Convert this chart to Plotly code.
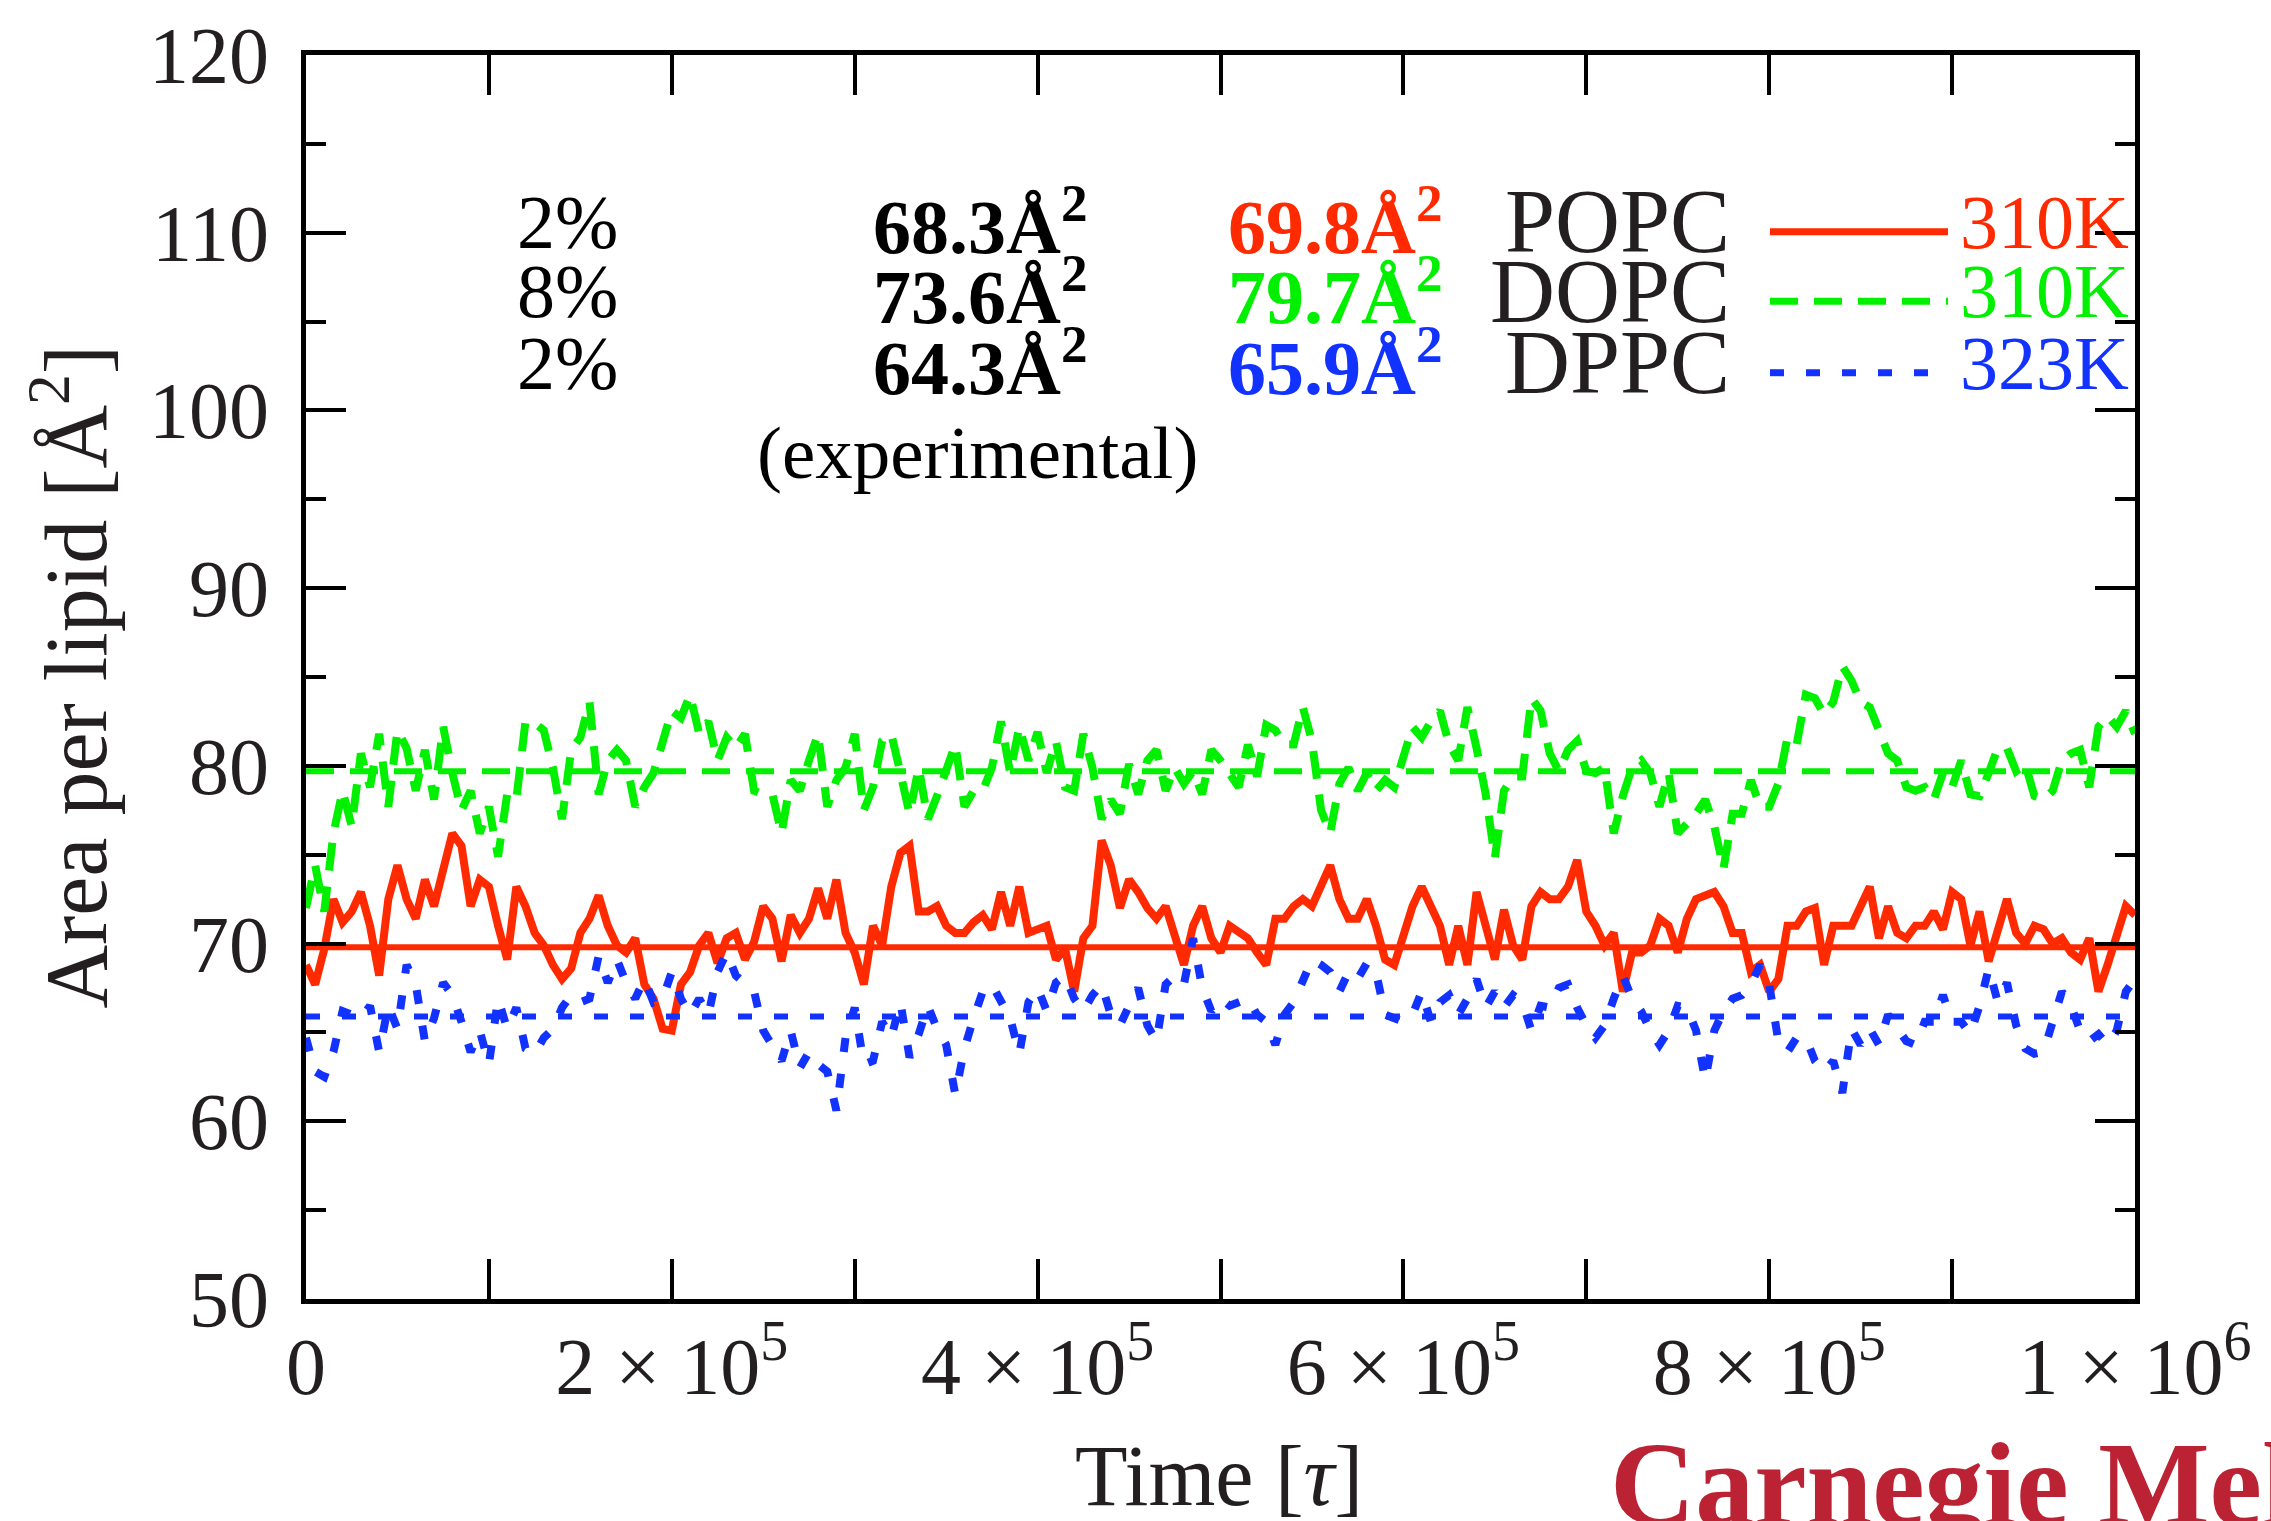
import plotly.graph_objects as go

# Area per lipid [Å^2] sampled every 5000 tau, 0 .. 1e6
sample_step = 5000

popc = [
    68.8, 67.7, 69.7, 72.5, 71.2, 71.8, 72.9, 71.0, 68.2, 72.5, 74.4,
    72.5, 71.4, 73.6, 72.1, 74.0, 76.2, 75.5, 72.1, 73.6, 73.2,
    71.0, 69.1, 73.2, 72.1, 70.6, 69.9, 68.8, 68.0, 68.6, 70.6,
    71.4, 72.7, 71.0, 69.9, 69.5, 70.3, 67.7, 66.9, 65.2, 65.1,
    67.7, 68.4, 69.9, 70.6, 68.9, 70.3, 70.6, 69.1, 70.1, 72.1,
    71.4, 69.0, 71.6, 70.6, 71.4, 73.1, 71.4, 73.6, 70.6, 69.5,
    67.7, 71.0, 69.9, 73.2, 75.1, 75.5, 71.8, 71.8, 72.1, 71.0,
    70.6, 70.6, 71.2, 71.6, 70.8, 72.9, 71.0, 73.2, 70.6, 70.8,
    71.0, 69.1, 69.7, 67.3, 70.3, 71.0, 75.8, 74.4, 72.0, 73.6,
    72.9, 72.0, 71.4, 72.1, 70.3, 68.8, 71.0, 72.1, 70.3, 69.5,
    71.0, 70.6, 70.3, 69.5, 68.8, 71.4, 71.4, 72.1, 72.5, 72.1,
    73.2, 74.4, 72.5, 71.4, 71.4, 72.5, 71.0, 69.1, 68.8, 70.4,
    72.1, 73.2, 72.1, 71.0, 68.8, 71.0, 68.8, 72.9, 71.0, 69.1,
    71.9, 69.9, 69.1, 72.1, 72.9, 72.5, 72.5, 73.2, 74.7, 71.8,
    71.0, 69.9, 70.6, 67.3, 69.5, 69.5, 69.9, 71.4, 71.0, 69.5,
    71.4, 72.5, 72.7, 72.9, 72.1, 70.6, 70.6, 68.4, 68.8, 67.3,
    68.0, 71.0, 71.0, 71.8, 72.0, 68.8, 71.0, 71.0, 71.0, 72.1,
    73.2, 70.3, 72.1, 70.6, 70.3, 71.0, 71.0, 71.8, 70.8, 72.9,
    72.5, 69.9, 71.8, 69.0, 70.6, 72.5, 70.6, 70.0, 71.0, 70.8,
    70.0, 70.3, 69.5, 69.1, 70.3, 67.3, 68.8, 70.6, 72.1, 71.6,
]

dopc = [
    72.0, 74.4, 71.8, 76.2, 78.6, 76.6, 80.7, 78.8, 81.8, 77.7, 82.0,
    81.0, 78.6, 80.9, 78.1, 82.2, 79.6, 77.5, 78.6, 76.2, 77.7,
    74.9, 78.4, 78.1, 82.5, 82.4, 82.0, 79.9, 77.0, 80.9, 81.6,
    83.6, 78.4, 80.3, 80.9, 80.3, 77.7, 78.8, 79.6, 81.4, 83.1,
    82.7, 84.0, 81.8, 82.5, 80.3, 81.6, 81.0, 81.8, 78.6, 78.4,
    78.4, 76.2, 79.2, 78.6, 80.3, 81.8, 77.7, 79.2, 79.9, 81.8,
    77.5, 78.8, 81.4, 81.8, 79.6, 77.3, 79.9, 77.0, 78.3, 79.6,
    81.2, 77.7, 78.6, 78.6, 79.9, 82.5, 79.6, 82.2, 80.3, 81.9,
    79.6, 81.4, 78.8, 78.6, 81.8, 79.9, 77.0, 78.1, 77.3, 80.1,
    78.4, 80.3, 80.9, 78.6, 79.9, 79.0, 79.7, 78.4, 80.9, 80.3,
    79.6, 78.8, 81.2, 79.4, 82.3, 82.0, 81.2, 81.2, 83.3, 81.4,
    77.5, 76.2, 79.0, 79.9, 78.6, 79.6, 78.6, 79.2, 78.8, 80.7,
    82.2, 81.6, 82.5, 83.1, 81.2, 80.3, 83.3, 81.0, 78.4, 74.8,
    78.6, 79.4, 79.4, 83.8, 83.1, 80.7, 79.7, 80.9, 81.4, 79.7,
    79.6, 79.9, 76.2, 78.3, 79.9, 80.3, 79.6, 77.7, 79.6, 76.2,
    76.8, 77.3, 78.1, 76.6, 74.2, 77.3, 77.3, 79.2, 77.7, 77.7,
    79.0, 81.6, 81.2, 84.0, 83.8, 82.9, 83.6, 85.6, 84.8, 83.6,
    83.3, 82.0, 80.7, 80.3, 78.8, 78.6, 78.8, 78.1, 79.6, 78.8,
    80.3, 78.4, 78.3, 79.6, 81.0, 81.0, 79.7, 80.1, 78.3, 78.1,
    78.6, 80.3, 80.7, 80.9, 78.8, 82.2, 82.8, 82.2, 83.1, 81.8,
]

dppc = [
    64.7, 62.8, 62.5, 63.9, 66.2, 66.0, 65.8, 66.5, 63.9, 66.5, 65.2,
    68.8, 67.7, 64.5, 65.8, 67.8, 67.1, 65.6, 63.9, 65.1, 63.2,
    66.9, 65.2, 66.4, 64.1, 63.8, 64.7, 65.2, 66.4, 67.1, 66.7,
    66.9, 69.3, 67.8, 69.1, 67.8, 66.9, 68.0, 66.7, 66.9, 68.4,
    66.9, 66.0, 66.9, 66.0, 68.4, 69.5, 68.2, 67.8, 67.3, 65.1,
    64.3, 63.4, 65.1, 63.0, 63.9, 63.2, 62.8, 60.6, 64.7, 66.4,
    63.2, 63.4, 65.6, 64.7, 66.7, 63.6, 64.9, 66.5, 65.2, 64.3,
    61.5, 64.1, 65.8, 67.3, 67.7, 66.7, 65.8, 63.8, 66.7, 67.5,
    66.2, 67.8, 68.2, 66.9, 66.2, 67.1, 67.7, 66.0, 65.4, 66.5,
    67.5, 65.4, 64.5, 67.7, 68.2, 67.7, 70.3, 67.5, 66.2, 66.9,
    66.5, 66.7, 66.9, 66.0, 65.6, 64.3, 66.0, 66.7, 68.0, 69.1,
    68.8, 68.4, 67.3, 68.4, 68.0, 68.9, 68.4, 66.0, 65.8, 65.6,
    66.0, 67.3, 65.6, 66.7, 67.1, 66.0, 66.9, 68.0, 66.4, 67.3,
    66.4, 67.1, 66.7, 65.1, 66.5, 66.4, 67.5, 67.7, 66.4, 65.4,
    64.7, 65.4, 66.9, 68.2, 66.9, 66.2, 65.1, 64.3, 65.1, 66.5,
    66.4, 65.1, 62.3, 65.1, 66.2, 66.9, 67.1, 67.7, 68.8, 67.7,
    64.5, 63.9, 64.7, 64.7, 63.4, 62.8, 63.4, 61.6, 65.2, 64.3,
    65.2, 64.3, 66.0, 65.2, 64.5, 64.3, 65.6, 65.6, 67.1, 65.6,
    65.6, 64.9, 66.5, 68.6, 66.7, 67.8, 65.4, 64.1, 63.8, 63.9,
    65.6, 67.3, 66.5, 65.1, 64.5, 64.9, 64.3, 65.1, 67.3, 68.0,
]

time = [i * sample_step for i in range(len(popc))]

lipids = ["POPC", "DOPC", "DPPC"]
temperatures = ["310K", "310K", "323K"]
fractions = ["2%", "8%", "2%"]
experimental_area = [68.3, 73.6, 64.3]
simulated_area = [69.8, 79.7, 65.9]
series = [popc, dopc, dppc]

colors = ["#ff2a00", "#00f000", "#1232ff"]
dashes = ["solid", "28px,16px", "14px,22px"]

x_tick_vals = [0, 200000, 400000, 600000, 800000, 1000000]
x_tick_text = ["0", "2 × 10<sup>5</sup>", "4 × 10<sup>5</sup>",
               "6 × 10<sup>5</sup>", "8 × 10<sup>5</sup>", "1 × 10<sup>6</sup>"]

FONT = "Liberation Serif"
INK = "#231f20"

fig = go.Figure()
for name, vals, mean, col, dash in zip(lipids, series, simulated_area, colors, dashes):
    fig.add_trace(go.Scatter(x=time, y=vals, mode="lines", name=name,
                             line=dict(color=col, width=8, dash=dash)))
    fig.add_trace(go.Scatter(x=[time[0], time[-1]], y=[mean, mean], mode="lines",
                             showlegend=False,
                             line=dict(color=col, width=6, dash=dash)))

axis_common = dict(showline=True, linewidth=5, linecolor="black", mirror="allticks",
                   ticks="inside", tickcolor="black", showgrid=False, zeroline=False,
                   tickfont=dict(family=FONT, size=80, color=INK))

fig.update_xaxes(range=[0, 1000000], tickvals=x_tick_vals, ticktext=x_tick_text,
                 ticklen=40, tickwidth=4, ticklabelstandoff=-6,
                 minor=dict(dtick=100000, ticklen=40, tickwidth=4, ticks="inside",
                            tickcolor="black"),
                 **axis_common)
fig.update_yaxes(range=[50, 120], dtick=10, ticklen=40, tickwidth=4,
                 ticklabelstandoff=16,
                 minor=dict(dtick=5, ticklen=20, tickwidth=4, ticks="inside",
                            tickcolor="black"),
                 **axis_common)

W, H = 2271, 1521
L, R, T, B = 306, 136, 46, 222


def px(xp):
    return (xp - L) / (W - L - R)


def py(yp):
    return (H - B - yp) / (H - T - B)


row_y = [224, 294, 366]
ann = []
shapes = []
for i in range(3):
    yy = py(row_y[i] - 10)
    ann.append(dict(x=px(620), y=yy, text=fractions[i], xanchor="right",
                    font=dict(size=76, color="black")))
    ann.append(dict(x=px(1089), y=yy, text=f"<b>{experimental_area[i]:.1f}Å<sup>2</sup></b>",
                    xanchor="right", font=dict(size=76, color="black")))
    ann.append(dict(x=px(1444), y=yy, text=f"<b>{simulated_area[i]:.1f}Å<sup>2</sup></b>",
                    xanchor="right", font=dict(size=76, color=colors[i])))
    ann.append(dict(x=px(1732), y=yy, text=lipids[i], xanchor="right",
                    font=dict(size=90, color=INK)))
    ann.append(dict(x=px(1958), y=yy, text=temperatures[i], xanchor="left",
                    font=dict(size=76, color=colors[i])))
    shapes.append(dict(type="line", xref="paper", yref="paper",
                       x0=px(1770), x1=px(1948), y0=py(row_y[i]), y1=py(row_y[i]),
                       line=dict(color=colors[i], width=7, dash=dashes[i])))

ann.append(dict(x=px(977), y=py(446), text="(experimental)", xanchor="center",
                font=dict(size=75, color="black")))
ann.append(dict(x=px(70), y=py(672), text="Area per lipid [Å<sup>2</sup>]", textangle=-90,
                xanchor="center", font=dict(size=88, color=INK)))
ann.append(dict(x=px(1219), y=py(1477), text="Time [<i>τ</i>]", xanchor="center",
                font=dict(size=86, color=INK)))
ann.append(dict(x=px(1608), y=py(1418), text="<b>Carnegie Mellon</b>", xanchor="left",
                yanchor="top", font=dict(size=118, color="#bb2233")))

for a in ann:
    a.setdefault("yanchor", "middle")
    a.update(xref="paper", yref="paper", showarrow=False)
    a["font"]["family"] = FONT

fig.update_layout(width=W, height=H, margin=dict(l=L, r=R, t=T, b=B),
                  paper_bgcolor="white", plot_bgcolor="white", showlegend=False,
                  font=dict(family=FONT, color=INK),
                  annotations=ann, shapes=shapes)

fig.write_html("out.html")
